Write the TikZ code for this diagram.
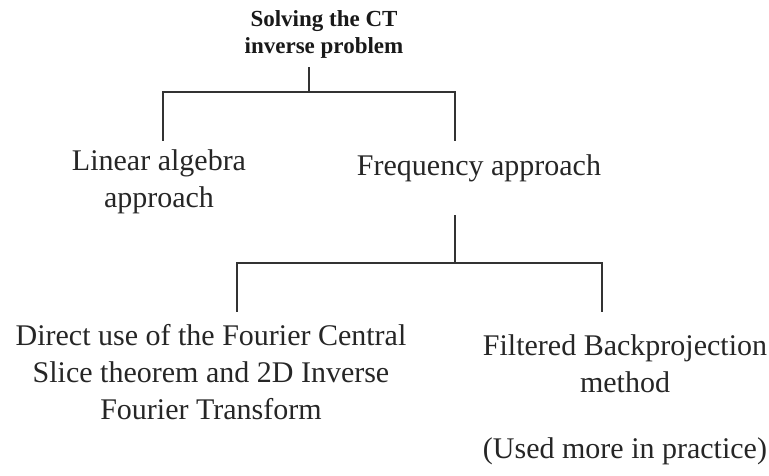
\documentclass[tikz,border=0pt]{standalone}
\usepackage{fontspec}
\setmainfont{Liberation Serif}
\begin{document}
\begin{tikzpicture}[x=1pt,y=-1pt,
  conn/.style={line width=2pt, draw=black!80},
  lbl/.style={inner sep=0pt, anchor=base, align=center, font=\fontsize{30}{37}\selectfont, text=black!85},
  ttl/.style={inner sep=0pt, anchor=base, align=center, font=\fontsize{23}{27}\selectfont\bfseries, text=black!90}]
\useasboundingbox (0,0) rectangle (769,475);
\node[ttl] (root) at (324,53) {Solving the CT\\inverse problem};
\node[lbl] (lin) at (159,207) {Linear algebra\\approach};
\node[lbl] (freq) at (479,175) {Frequency approach};
\node[lbl] (dir) at (211,419) {Direct use of the Fourier Central\\Slice theorem and 2D Inverse\\Fourier Transform};
\node[lbl] (fbp) at (625,392) {Filtered Backprojection\\method};
\node[lbl] (used) at (625,458) {(Used more in practice)};
\coordinate (rootstem) at (309,67);
\coordinate (j1) at (309,92);
\coordinate (linend) at (163,141);
\coordinate (freqend) at (455,141);
\coordinate (freqstem) at (455,215);
\coordinate (j2) at (455,263);
\coordinate (dirend) at (237,312);
\coordinate (fbpend) at (602,312);
\draw[conn] (rootstem) -- (j1);
\draw[conn] (j1) -| (linend);
\draw[conn] (j1) -| (freqend);
\draw[conn] (freqstem) -- (j2);
\draw[conn] (j2) -| (dirend);
\draw[conn] (j2) -| (fbpend);
\end{tikzpicture}
\end{document}
